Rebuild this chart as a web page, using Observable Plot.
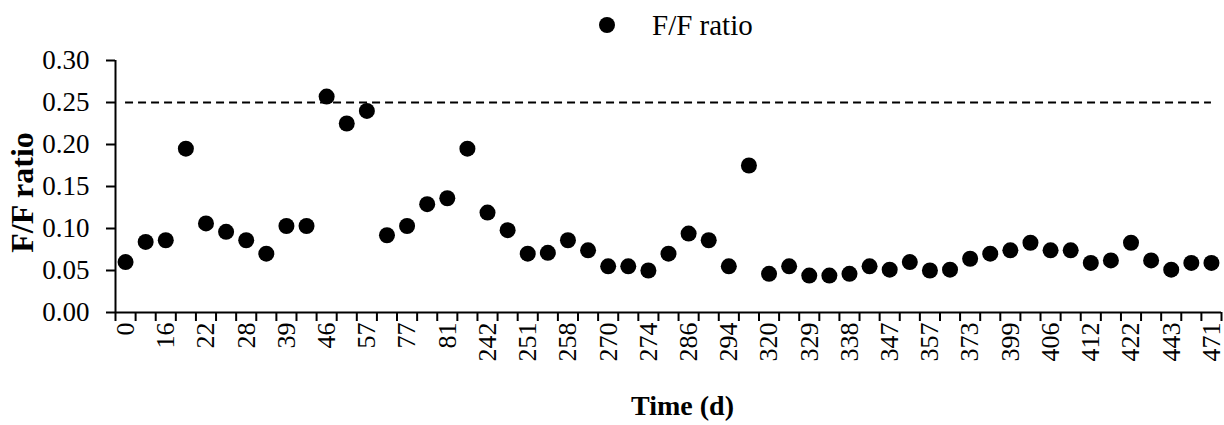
<!DOCTYPE html>
<html><head><meta charset="utf-8">
<script src="https://cdn.jsdelivr.net/npm/d3@7"></script>
<script src="https://cdn.jsdelivr.net/npm/@observablehq/plot@0.6"></script>
<style>
body{margin:0;background:#fff;font-family:"Liberation Serif","Times New Roman",serif;}
#legend{height:46px;position:relative;width:1224px;}
#legend .dot{position:absolute;left:599px;top:17px;width:16px;height:16px;border-radius:50%;background:#000;}
#legend .lt{position:absolute;left:652px;top:10px;font-size:29px;line-height:30px;color:#000;}
</style></head><body>
<div id="legend"><span class="dot"></span><span class="lt">F/F ratio</span></div>
<div id="chart"></div>
<script>
// Time (d) labels shown on the axis (every other sampling point is unlabeled)
const days = [0,null,16,null,22,null,28,null,39,null,46,null,57,null,77,null,81,null,242,null,
  251,null,258,null,270,null,274,null,286,null,294,null,320,null,329,null,338,null,347,null,
  357,null,373,null,399,null,406,null,412,null,422,null,443,null,471];
// F/F ratio values
const ratio = [0.060,0.084,0.086,0.195,0.106,0.096,0.086,0.070,0.103,0.103,
  0.257,0.225,0.240,0.092,0.103,0.129,0.136,0.195,0.119,0.098,
  0.070,0.071,0.086,0.074,0.055,0.055,0.050,0.070,0.094,0.086,
  0.055,0.175,0.046,0.055,0.044,0.044,0.046,0.055,0.051,0.060,
  0.050,0.051,0.064,0.070,0.074,0.083,0.074,0.074,0.059,0.062,
  0.083,0.062,0.051,0.059,0.059];
const threshold = 0.25;
const yTicks = [0,0.05,0.10,0.15,0.20,0.25,0.30];
const xTitle = "Time (d)";
const yTitle = "F/F ratio";

const n = ratio.length;
const data = ratio.map((v,i)=>({i, v, day: days[i]}));
const labeled = data.filter(d=>d.day!==null).map(d=>d.i);
const bounds = d3.range(n+1).map(k=>k-0.5);
const font = '"Liberation Serif","Times New Roman",serif';

const plot = Plot.plot({
  width:1224, height:379,
  marginLeft:115, marginRight:3, marginTop:14, marginBottom:113,
  style:{fontFamily:font, fontSize:"27px", color:"#000", background:"#fff", overflow:"visible"},
  x:{type:"linear", domain:[-0.5, n-0.5]},
  y:{domain:[0,0.3]},
  marks:[
    Plot.axisY({ticks:yTicks, tickFormat:d=>d.toFixed(2), tickSize:9, tickPadding:17, strokeWidth:2, label:null, fontSize:27}),
    Plot.axisX({ticks:bounds, tickSize:9, tickFormat:()=>"", strokeWidth:2, label:null}),
    Plot.axisX({ticks:labeled, tickSize:0, tickPadding:10, tickRotate:-90, tickFormat:i=>String(days[i]), label:null, fontSize:26}),
    Plot.ruleX([-0.5], {strokeWidth:2}),
    Plot.ruleY([0], {strokeWidth:2}),
    Plot.ruleY([{y:threshold, x1:0, x2:n-1}], {y:"y", x1:"x1", x2:"x2", strokeWidth:2, strokeDasharray:"8,5"}),
    Plot.dot(data, {x:"i", y:"v", r:8, fill:"#000", stroke:null}),
    Plot.text([xTitle], {text:d=>d, frameAnchor:"bottom", lineAnchor:"middle", textAnchor:"middle", dx:14, dy:94, fontWeight:"bold", fontSize:28}),
    Plot.text([yTitle], {text:d=>d, frameAnchor:"left", rotate:-90, textAnchor:"middle", lineAnchor:"middle", dx:-93, dy:6, fontWeight:"bold", fontSize:32})
  ]
});
document.getElementById("chart").appendChild(plot);
</script>
</body></html>
